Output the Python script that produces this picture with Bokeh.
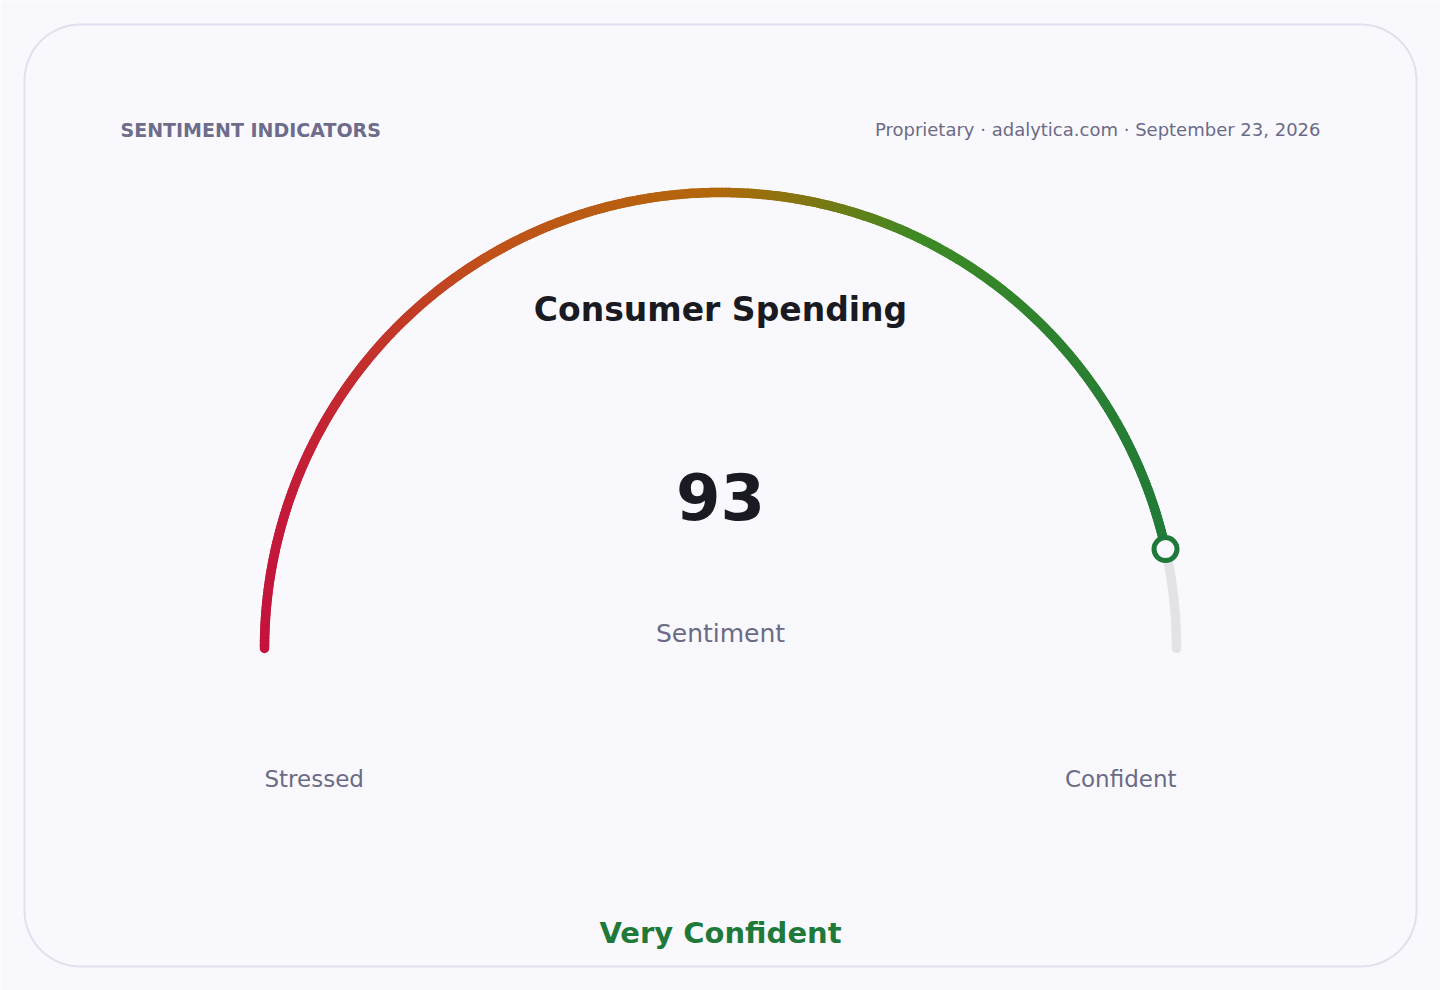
import numpy as np
from bokeh.plotting import figure
from bokeh.models import Range1d
from bokeh.core.properties import value
from bokeh.embed import file_html
from bokeh.resources import INLINE

# ---------------- data ----------------
header_left = ["SENTIMENT INDICATORS"]
header_right = ["Proprietary · adalytica.com · September 23, 2026"]
gauge_title = ["Consumer Spending"]
gauge_value = [93]
value_caption = ["Sentiment"]
scale_bounds = [0, 100]
scale_labels = ["Stressed", "Confident"]
status_label = ["Very Confident"]

# ---------------- styles ----------------
BG = "#f9f9fd"
BORDER = "#e0e0ef"
MUTED = "#6b6b86"
HEADER = "#6e6c8c"
DARK = "#1a1a22"
GREEN = "#1f7a3a"
TRACK = "#e3e3e7"
STOPS = [(0.0, (196, 20, 60)), (0.25, (192, 82, 26)), (0.5, (178, 104, 11)),
         (0.61, (122, 120, 18)), (0.72, (62, 138, 36)), (1.0, (32, 122, 56))]
FONT = value("DejaVu Sans")
ARC_W = 9.5

W, H = 1440, 990
p = figure(width=W, height=H, output_backend="svg", toolbar_location=None,
           x_range=Range1d(0, W), y_range=Range1d(H, 0),
           x_axis_type=None, y_axis_type=None, min_border=0,
           background_fill_color=BG, border_fill_color=BG)
p.outline_line_color = None
p.grid.visible = False

# card (rounded rectangle)
x0c, y0c, x1c, y1c, rc = 24, 24, 1416, 966, 56
def corner(cx, cy, a0, a1):
    a = np.linspace(a0, a1, 20)
    return cx + rc * np.cos(a), cy - rc * np.sin(a)
xs, ys = [], []
for (cx, cy, a0, a1) in [(x1c - rc, y0c + rc, 0, np.pi / 2),
                         (x0c + rc, y0c + rc, np.pi / 2, np.pi),
                         (x0c + rc, y1c - rc, np.pi, 1.5 * np.pi),
                         (x1c - rc, y1c - rc, 1.5 * np.pi, 2 * np.pi)]:
    cxs, cys = corner(cx, cy, a0, a1)
    xs += list(cxs); ys += list(cys)
xs.append(xs[0]); ys.append(ys[0])
p.patch(xs, ys, fill_color=BG, line_color=BORDER, line_width=2)

# gauge geometry
CX, CY, R = 720, 648, 456
vmin, vmax = scale_bounds
frac = (gauge_value[0] - vmin) / (vmax - vmin)
theta_v = np.pi * (1 - frac)

def interp_color(t):
    for (t0, c0), (t1, c1) in zip(STOPS[:-1], STOPS[1:]):
        if t <= t1:
            f = (t - t0) / (t1 - t0)
            c = [round(a + (b - a) * f) for a, b in zip(c0, c1)]
            return "#%02x%02x%02x" % tuple(c)
    return "#%02x%02x%02x" % STOPS[-1][1]

# track remainder
ta = np.linspace(theta_v, 0, 60)
p.line(CX + R * np.cos(ta), CY - R * np.sin(ta), line_color=TRACK, line_width=ARC_W, line_cap="round")

# gradient filled arc
N = 360
th = np.linspace(np.pi, theta_v, N + 1)
ax = CX + R * np.cos(th)
ay = CY - R * np.sin(th)
mx = (ax[:-1] + ax[1:]) / 2
cols = [interp_color((x - (CX - R)) / (2 * R)) for x in mx]
p.segment(ax[:-1], ay[:-1], ax[1:], ay[1:], line_color=cols, line_width=ARC_W, line_cap="round")

# marker
p.scatter([CX + R * np.cos(theta_v)], [CY - R * np.sin(theta_v)], size=23, marker="circle",
          fill_color=BG, line_color=GREEN, line_width=5)

def txt(x, y, t, size, color, align="center", bold=False):
    p.text(x=[x], y=[y], text=t, text_font=FONT, text_font_size=value(size),
           text_font_style="bold" if bold else "normal", text_color=color,
           text_align=align, text_baseline="alphabetic")

txt(120, 129, header_left, "19px", HEADER, "left", True)
txt(1320, 129, header_right, "18px", MUTED, "right")
txt(CX, 309, gauge_title, "33px", DARK, "center", True)
txt(CX, 496, [str(v) for v in gauge_value], "64px", DARK, "center", True)
txt(CX, 633, value_caption, "25px", MUTED, "center")
txt(CX - R, 778, scale_labels[:1], "23px", MUTED, "left")
txt(CX + R, 778, scale_labels[1:], "23px", MUTED, "right")
txt(CX, 932, status_label, "29px", GREEN, "center", True)

open("out.html", "w").write(file_html(p, INLINE))
